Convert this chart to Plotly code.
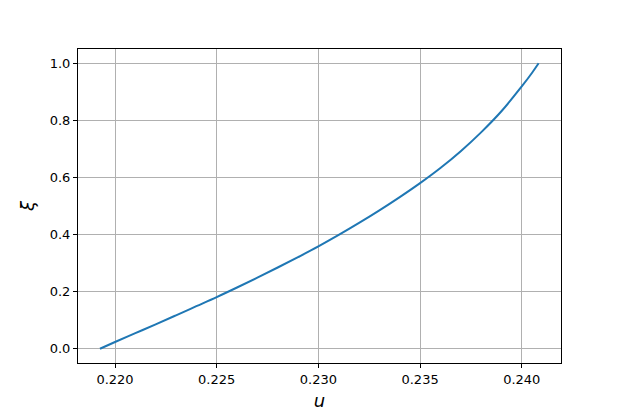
import plotly.graph_objects as go

# curve
u_vals = [0.21926, 0.220, 0.221, 0.222, 0.223, 0.224, 0.225, 0.226, 0.227,
          0.228, 0.229, 0.230, 0.231, 0.232, 0.233, 0.234, 0.235, 0.236,
          0.237, 0.238, 0.239, 0.240, 0.2405, 0.24083]
xi_vals = [0.0, 0.0235, 0.0545, 0.0855, 0.117, 0.149, 0.181, 0.2145, 0.249,
           0.2845, 0.321, 0.3585, 0.3985, 0.4405, 0.4845, 0.531, 0.580, 0.633,
           0.692, 0.758, 0.832, 0.919, 0.966, 1.0]

x_range = [0.21818, 0.24193]
y_range = [-0.05, 1.05]

axis_style = dict(
    showline=True, linecolor='black', linewidth=1, mirror=True,
    ticks='outside', ticklen=4, tickwidth=1, tickcolor='black',
    showgrid=True, gridcolor='#b0b0b0', gridwidth=1, zeroline=False,
    tickfont=dict(family='DejaVu Sans', size=13, color='black'),
    automargin=False,
)

fig = go.Figure()
fig.add_trace(go.Scatter(
    x=u_vals, y=xi_vals, mode='lines', line=dict(color='#1f77b4', width=2, shape='spline'),
    showlegend=False))

# page body adds 8px offset, so the figure is drawn 8px smaller
fig.update_layout(
    width=615, height=407,
    margin=dict(l=70, r=62, t=41, b=52),
    paper_bgcolor='white', plot_bgcolor='white',
    xaxis=dict(range=x_range, dtick=0.005, tick0=0.22, tickformat='.3f',
               title=dict(text='<i>u</i>', font=dict(family='DejaVu Sans', size=18, color='black'),
                          standoff=8),
               **axis_style),
    yaxis=dict(range=y_range, dtick=0.2, tick0=0, tickformat='.1f',
               title=dict(text='<i>ξ</i>', font=dict(family='DejaVu Sans', size=18, color='black'),
                          standoff=10),
               **axis_style),
)

fig.write_html('out.html')
